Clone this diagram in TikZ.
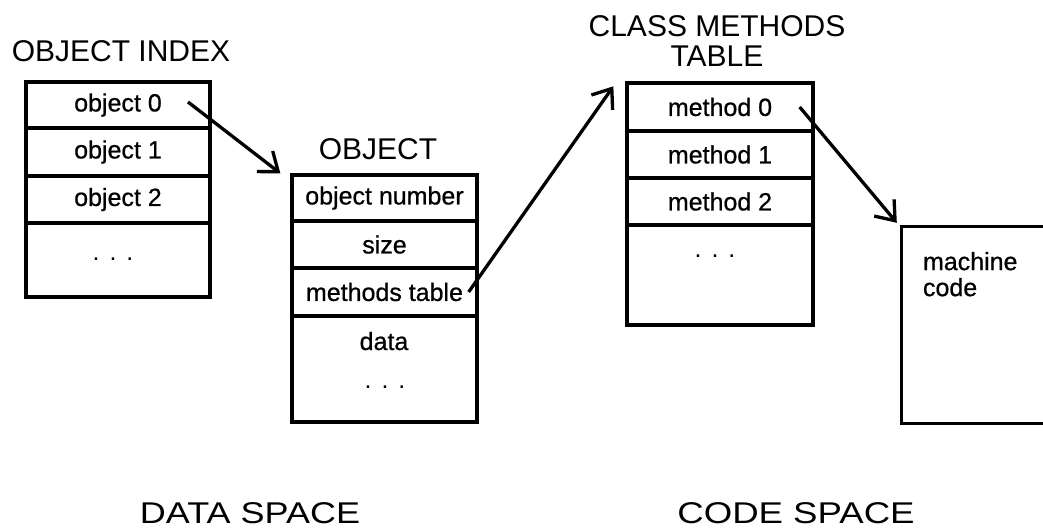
\documentclass[tikz,border=0pt]{standalone}
\usepackage{fontspec}
\usepackage{graphicx}
\setmainfont{Liberation Sans}
\newfontfamily\cellfamily[FakeBold=0.7]{Liberation Sans}
\usetikzlibrary{arrows.meta}

\newcommand\cellfont{\cellfamily\fontsize{25}{26}\selectfont}
\newcommand\headfont{\fontsize{30}{30}\selectfont}
\newcommand\threedots{.\hspace{10pt}.\hspace{10pt}.}

\begin{document}
\begin{tikzpicture}[x=1pt,y=-1pt,
  cell/.style={draw,line width=3.3pt,inner sep=0pt,font=\cellfont},
  heading/.style={font=\headfont,inner sep=0pt,anchor=base},
  filler/.style={font=\cellfont,inner sep=0pt,anchor=base},
  spacelabel/.style={font=\headfont,inner sep=0pt,anchor=base},
  ptr/.style={line width=3.3pt,-{Straight Barb[length=17pt,width=26pt]}}]
\useasboundingbox (0,0) rectangle (1043,529);

% object index
\node[heading] (idxtitle) at (121,62) {OBJECT INDEX};
\node[cell,minimum width=184pt,minimum height=46pt] (idx0) at (118,105) {object 0};
\node[cell,minimum width=184pt,minimum height=48pt] (idx1) at (118,152) {object 1};
\node[cell,minimum width=184pt,minimum height=47pt] (idx2) at (118,199.5) {object 2};
\node[cell,minimum width=184pt,minimum height=74pt] (idxrest) at (118,260) {};
\node[filler,font=\fontsize{25}{26}\selectfont] (idxdots) at (113,261) {\threedots};

% object
\node[heading] (objtitle) at (378,160) {OBJECT};
\node[cell,minimum width=185pt,minimum height=46pt] (objnum) at (384.5,198) {object number};
\node[cell,minimum width=185pt,minimum height=47pt] (objsize) at (384.5,244.5) {size};
\node[cell,minimum width=185pt,minimum height=48pt] (objmt) at (384.5,292) {methods table};
\node[cell,minimum width=185pt,minimum height=106pt] (objdata) at (384.5,369) {};
\node[filler] (datatext) at (384,350) {data};
\node[filler,font=\fontsize{25}{26}\selectfont] (objdots) at (385,388) {\threedots};

% class methods table
\node[font=\headfont,inner sep=0pt,anchor=north,align=center] (cmtitle) at (717,15.5) {CLASS METHODS\\TABLE};
\node[cell,minimum width=186pt,minimum height=48pt] (cm0) at (720,107) {method 0};
\node[cell,minimum width=186pt,minimum height=47pt] (cm1) at (720,154.5) {method 1};
\node[cell,minimum width=186pt,minimum height=47pt] (cm2) at (720,201.5) {method 2};
\node[cell,minimum width=186pt,minimum height=100pt] (cmrest) at (720,275) {};
\node[filler,font=\fontsize{25}{26}\selectfont] (cmdots) at (715,258) {\threedots};

% machine code region, open to the right
\node[inner sep=0pt,minimum width=141pt,minimum height=196pt] (code) at (972.5,325) {};
\draw[line width=3.3pt] (code.north east) -- (code.north west) -- (code.south west) -- (code.south east);
\node[font=\cellfont,inner sep=0pt,anchor=north west,align=left] (codetext)
  at ([xshift=21pt,yshift=-25pt]code.north west) {machine\\code};

% pointers
\coordinate (objref) at (188,102);
\draw[ptr] (objref) -- ([xshift=-10pt]objnum.north west);
\draw[ptr] ([xshift=-10pt]objmt.east) -- ([xshift=-12pt,yshift=-5pt]cm0.north west);
\draw[ptr] ([xshift=-15pt]cm0.east) -- ([xshift=-5pt,yshift=4pt]code.north west);

% space labels
\node[spacelabel] (dataspace) at (250,523) {\scalebox{1.2}[1]{DATA SPACE}};
\node[spacelabel] (codespace) at (796,523) {\scalebox{1.22}[1]{CODE SPACE}};
\end{tikzpicture}
\end{document}
